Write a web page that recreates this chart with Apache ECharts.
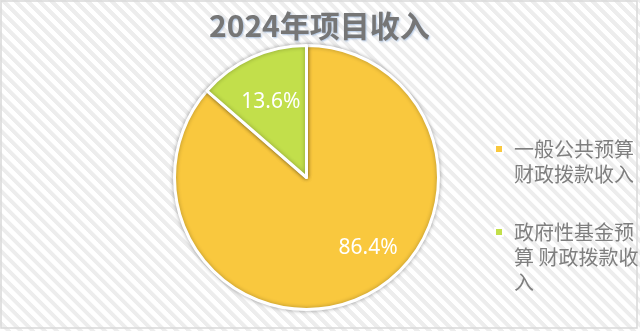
<!DOCTYPE html>
<html><head><meta charset="utf-8">
<script src="https://cdn.jsdelivr.net/npm/echarts@6/dist/echarts.min.js"></script>
<style>
html,body{margin:0;padding:0;background:#fff;}
#c{width:640px;height:331px;background:repeating-linear-gradient(45deg,#ffffff 0px,#ffffff 4px,#ededed 4.5px,#ededed 8px,#ffffff 8.5px);}
</style></head>
<body><div id="c"></div>
<script>
const titleText = '2024年项目收入';
const categories = ['一般公共预算财政拨款收入', '政府性基金预算 财政拨款收入'];
const legendLines = [['一般公共预算', '财政拨款收入'], ['政府性基金预', '算 财政拨款收', '入']];
const values = [86.4, 13.6];
const colors = ['#F9C83E', '#C2DF4B'];

const chart = echarts.init(document.getElementById('c'), null, {renderer: 'canvas'});
const LH = 25;
chart.setOption({
  animation: false,
  backgroundColor: 'transparent',
  title: {
    text: titleText, left: 204, top: 6,
    textStyle: {fontSize: 30, fontWeight: 'bold', color: '#767676', fontFamily: 'Noto Sans CJK SC',
      textShadowColor: 'rgba(140,170,210,0.7)', textShadowBlur: 2, textShadowOffsetX: 1, textShadowOffsetY: 1}
  },
  graphic: [{type: 'rect', silent: true, z: -1, shape: {x: 1, y: 1, width: 636, height: 327},
    style: {fill: 'none', stroke: '#d9d9d9', lineWidth: 1.5}}],
  legend: {
    orient: 'vertical', left: 494, top: 111.5, padding: 0, itemGap: -17,
    itemWidth: 8, itemHeight: 8, icon: 'rect',
    data: categories,
    formatter: name => {
      const lines = legendLines[categories.indexOf(name)];
      const pad = new Array(lines.length - 1).fill(' ');
      return pad.concat(lines).join('\n');
    },
    textStyle: {fontSize: 20, lineHeight: LH, color: '#7f7f7f', fontFamily: 'Noto Sans CJK SC', padding: [0, 0, 0, 6]}
  },
  series: [{
    type: 'pie', center: [306.5, 177.5], radius: 132, startAngle: 90, clockwise: true,
    data: categories.map((n, i) => ({name: n, value: values[i], itemStyle: {color: colors[i]}})),
    itemStyle: {borderColor: '#fff', borderWidth: 3, shadowBlur: 4, shadowColor: 'rgba(0,0,0,0.3)'},
    label: {show: true, position: 'inside', formatter: p => p.value.toFixed(1) + '%',
      color: '#fff', fontSize: 21, fontFamily: 'Noto Sans'},
    labelLine: {show: false},
    labelLayout: p => p.dataIndex === 0 ? {dx: 33, dy: 8} : {dx: -7, dy: -13}
  }]
});
</script></body></html>
